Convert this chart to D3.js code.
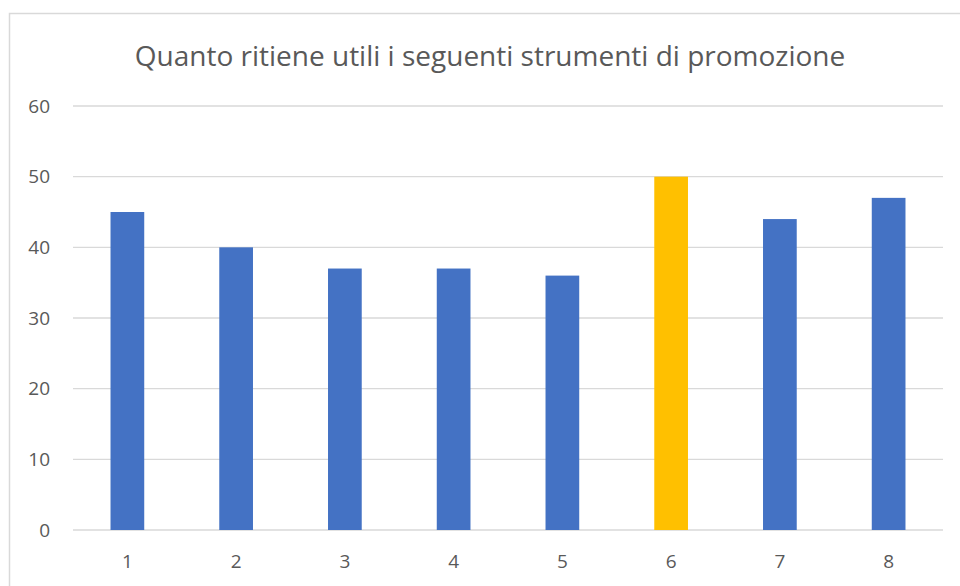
<!DOCTYPE html>
<html>
<head>
<meta charset="utf-8">
<script src="https://cdn.jsdelivr.net/npm/d3@7"></script>
<style>
  body { margin: 0; background: #fff; }
  text { font-family: "Open Sans", "Noto Sans", sans-serif; fill: #595959; }
</style>
</head>
<body>
<div id="chart"></div>
<script>
var categories = ["1", "2", "3", "4", "5", "6", "7", "8"];
var values = [45, 40, 37, 37, 36, 50, 44, 47];
var yTicks = [0, 10, 20, 30, 40, 50, 60];
var title = "Quanto ritiene utili i seguenti strumenti di promozione";

var width = 960, height = 586;
var plotLeft = 73, plotRight = 943, plotTop = 106, plotBottom = 530;

var svg = d3.select("#chart").append("svg")
    .attr("width", width)
    .attr("height", height);

// chart border
svg.append("rect")
    .attr("x", 9.5).attr("y", 13.5)
    .attr("width", 980).attr("height", 600)
    .attr("fill", "none")
    .attr("stroke", "#d9d9d9")
    .attr("stroke-width", 1.5);

var x = d3.scaleBand()
    .domain(categories)
    .range([plotLeft, plotRight])
    .paddingInner(0.69)
    .paddingOuter(0.345);

var y = d3.scaleLinear()
    .domain([0, 60])
    .range([plotBottom, plotTop]);

// gridlines
svg.append("g")
    .selectAll("line")
    .data(yTicks)
  .enter().append("line")
    .attr("x1", plotLeft).attr("x2", plotRight)
    .attr("y1", function(d) { return y(d); })
    .attr("y2", function(d) { return y(d); })
    .attr("stroke", "#d9d9d9")
    .attr("stroke-width", 1.3);

// y labels
var yAxis = svg.append("g")
    .attr("transform", "translate(50,0)")
    .call(d3.axisLeft(y).tickValues(yTicks).tickSize(0).tickPadding(0));
yAxis.select(".domain").remove();
yAxis.selectAll("text")
    .attr("font-size", 19)
    .attr("font-family", null)
    .attr("fill", "#595959");

// bars
svg.append("g")
    .selectAll("rect")
    .data(values)
  .enter().append("rect")
    .attr("x", function(d, i) { return x(categories[i]); })
    .attr("y", function(d) { return y(d); })
    .attr("width", x.bandwidth())
    .attr("height", function(d) { return y(0) - y(d); })
    .attr("fill", function(d, i) { return i == 5 ? "#ffc000" : "#4472c4"; });

// x labels
var xAxis = svg.append("g")
    .attr("transform", "translate(0," + (plotBottom + 24) + ")")
    .call(d3.axisBottom(x).tickSize(0).tickPadding(0));
xAxis.select(".domain").remove();
xAxis.selectAll("text")
    .attr("font-size", 19)
    .attr("font-family", null)
    .attr("fill", "#595959");

svg.append("text")
    .attr("x", 490)
    .attr("y", 66)
    .attr("text-anchor", "middle")
    .attr("font-size", 28)
    .text(title);
</script>
</body>
</html>
